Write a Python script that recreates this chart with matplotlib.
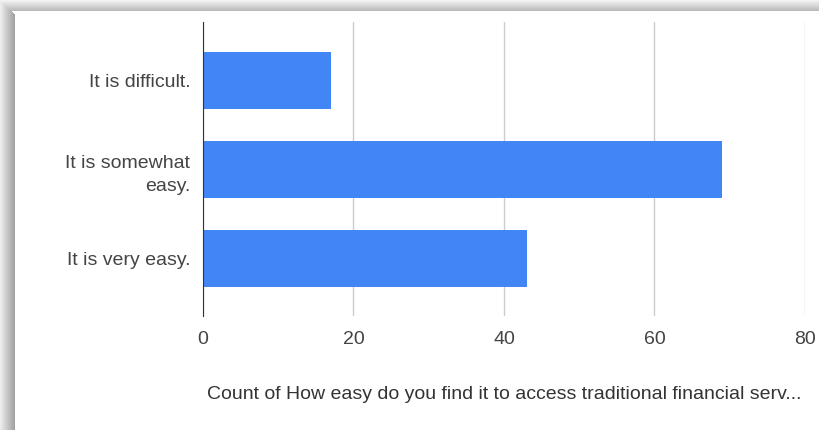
import matplotlib.pyplot as plt
from matplotlib.patches import Rectangle

categories = ["It is very easy.", "It is somewhat\neasy.", "It is difficult."]
counts = [43, 69, 17]
xticks = [0, 20, 40, 60, 80]
xlabel = "Count of How easy do you find it to access traditional financial serv..."

plt.rcParams["font.family"] = ["Liberation Sans", "DejaVu Sans"]

W, H = 820, 430
fig = plt.figure(figsize=(W / 100, H / 100), dpi=100)
fig.patch.set_facecolor("white")

# gray drop shadow along left and top edge of the card
for i in range(15):
    g = 0.93 - 0.30 * (i / 14)
    fig.patches.append(Rectangle((i / W, 0), 1 / W, 1 - i / H, transform=fig.transFigure,
                                 facecolor=(g, g, g), edgecolor="none"))
for j in range(11):
    g = 0.95 - 0.22 * (j / 10)
    fig.patches.append(Rectangle((j / W, 1 - (j + 1) / H), 1 - j / W, 1 / H, transform=fig.transFigure,
                                 facecolor=(g, g, g), edgecolor="none"))

ax = fig.add_axes([203 / W, 1 - 316 / H, 602 / W, 294 / H])
ypos = list(range(len(categories)))
ax.barh(ypos, counts, height=0.64, color="#4285f4", zorder=3)

fs = 14
ax.set_xlim(0, 80)
ax.set_ylim(-0.64, 2.66)
ax.set_xticks(xticks)
ax.set_yticks(ypos)
ax.set_yticklabels(categories, fontsize=fs, color="#444444", linespacing=1.45)
ax.tick_params(axis="x", labelsize=fs, labelcolor="#444444", length=0, pad=11)
ax.tick_params(axis="y", length=0, pad=9)
ax.grid(axis="x", color="#cccccc", linewidth=1, zorder=0)
for s in ["top", "right", "bottom"]:
    ax.spines[s].set_visible(False)
ax.spines["left"].set_color("#333333")
ax.spines["left"].set_zorder(4)
ax.set_xlabel(xlabel, fontsize=fs, color="#333333", labelpad=27)

fig.savefig("out.png", dpi=100)
